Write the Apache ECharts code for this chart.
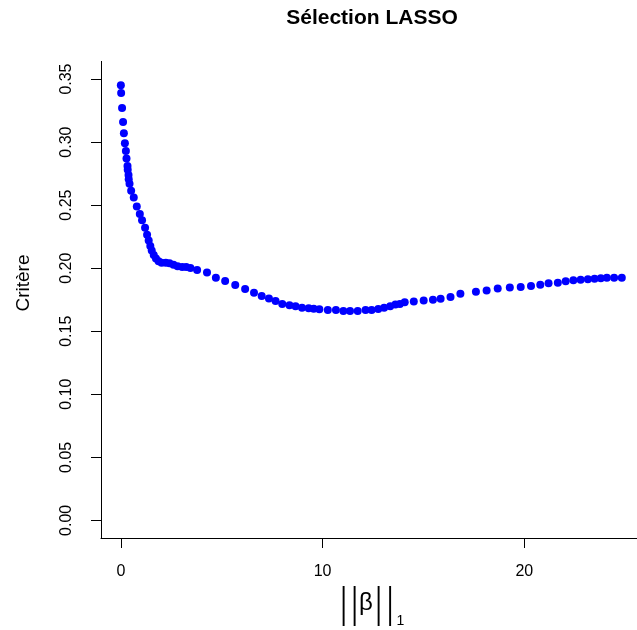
<!DOCTYPE html>
<html>
<head>
<meta charset="utf-8">
<script src="https://cdn.jsdelivr.net/npm/echarts@6/dist/echarts.min.js"></script>
<style>
html,body{margin:0;padding:0;background:#fff;}
#c{width:637px;height:630px;}
</style>
</head>
<body>
<div id="c"></div>
<script>
// Data
const xValues = [0.00,0.015,0.06,0.11,0.15,0.20,0.25,0.28,0.33,0.34,0.38,0.39,0.43,0.51,0.64,0.79,0.94,1.05,1.20,1.30,
  1.38,1.46,1.53,1.63,1.74,1.87,2.02,2.23,2.41,2.61,2.81,3.04,3.24,3.45,3.78,4.27,4.71,5.17,5.67,6.16,
  6.60,6.98,7.34,7.67,8.00,8.36,8.66,8.98,9.31,9.56,9.84,10.26,10.66,11.03,11.36,11.74,12.13,12.43,12.76,13.05,
  13.35,13.61,13.83,14.07,14.52,15.01,15.47,15.85,16.34,16.83,17.60,18.13,18.68,19.28,19.82,20.33,20.79,21.20,21.66,22.05,
  22.43,22.79,23.15,23.48,23.79,24.09,24.45,24.83];
const yValues = [0.345,0.339,0.327,0.316,0.307,0.299,0.293,0.287,0.281,0.278,0.274,0.2705,0.267,0.2615,0.256,0.249,0.243,0.238,0.232,0.2266,
  0.222,0.2176,0.214,0.2105,0.2076,0.2055,0.2044,0.2044,0.2039,0.2028,0.2015,0.201,0.201,0.2002,0.1986,0.1965,0.1925,0.1899,0.1867,0.1835,
  0.1806,0.178,0.176,0.174,0.1716,0.1706,0.1698,0.1687,0.1682,0.1679,0.1674,0.1669,0.1669,0.1661,0.1661,0.1661,0.1669,0.1669,0.1677,0.1687,
  0.1698,0.1711,0.1716,0.173,0.1735,0.1743,0.175,0.1758,0.1772,0.1798,0.1814,0.1822,0.1838,0.1846,0.1851,0.1859,0.1869,0.188,0.1885,0.1896,
  0.1904,0.1909,0.1912,0.1917,0.192,0.1925,0.1925,0.1925];
const xTicks = [0, 10, 20];
const yTicks = [0, 0.05, 0.10, 0.15, 0.20, 0.25, 0.30, 0.35];
const titleText = 'Sélection LASSO';
const yLabel = 'Critère';

const points = xValues.map((x, i) => [x, yValues[i]]);
const FONT = '"Liberation Sans", Arial, Helvetica, sans-serif';

const chart = echarts.init(document.getElementById('c'), null, {renderer: 'canvas'});
const barXs = [343.5, 354.5, 378.5, 390];
const graphics = [
  {type: 'text', x: 372, y: 18, style: {text: titleText, font: 'bold 21px ' + FONT, fill: '#000', align: 'center', verticalAlign: 'middle'}},
  {type: 'text', x: 24, y: 283, rotation: Math.PI / 2, style: {text: yLabel, font: '19px ' + FONT, fill: '#000', align: 'center', verticalAlign: 'middle'}},
  {type: 'text', x: 366, y: 603.5, style: {text: 'β', font: '24px ' + FONT, fill: '#000', align: 'center', verticalAlign: 'middle'}},
  {type: 'text', x: 400.5, y: 621, style: {text: '1', font: '14px ' + FONT, fill: '#000', align: 'center', verticalAlign: 'middle'}}
];
barXs.forEach(bx => graphics.push({type: 'text', x: bx, y: 605, scaleY: 2.65, scaleX: 1.5,
  style: {text: '|', font: '16px ' + FONT, fill: '#000', align: 'center', verticalAlign: 'middle'}}));

chart.setOption({
  animation: false,
  backgroundColor: '#fff',
  grid: {left: 101, right: -3.4, top: 61.4, bottom: 92, containLabel: false},
  xAxis: {
    type: 'value', min: -0.984, max: 25.584,
    axisLine: {show: true, onZero: false, lineStyle: {color: '#000', width: 1}},
    axisTick: {show: true, length: 10, customValues: xTicks, lineStyle: {color: '#000', width: 1}},
    axisLabel: {customValues: xTicks, margin: 26, color: '#000', fontSize: 16, fontFamily: FONT},
    splitLine: {show: false}
  },
  yAxis: {
    type: 'value', min: -0.014, max: 0.364,
    axisLine: {show: true, onZero: false, lineStyle: {color: '#000', width: 1}},
    axisTick: {show: true, length: 10, customValues: yTicks, lineStyle: {color: '#000', width: 1}},
    axisLabel: {customValues: yTicks, rotate: 90, margin: 26, color: '#000', fontSize: 16, fontFamily: FONT,
      formatter: v => v.toFixed(2)},
    splitLine: {show: false}
  },
  series: [{
    type: 'scatter', data: points, symbol: 'circle', symbolSize: 8,
    itemStyle: {color: '#0000ff', opacity: 1}
  }],
  graphic: graphics
});
</script>
</body>
</html>
